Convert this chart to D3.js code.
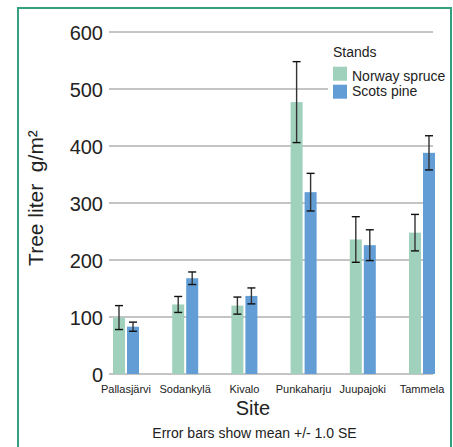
<!DOCTYPE html>
<html><head><meta charset="utf-8">
<script src="https://cdn.jsdelivr.net/npm/d3@7"></script>
<style>body{margin:0;background:#fff}svg{display:block}text{font-family:"Liberation Sans",Arial,sans-serif;fill:#222}</style>
</head><body>
<svg id="c" width="453" height="447"></svg>
<script>
const sites = ["Pallasjärvi","Sodankylä","Kivalo","Punkaharju","Juupajoki","Tammela"];
const series = ["Norway spruce","Scots pine"];
const spruceMean = [99, 122, 120, 477, 236, 248];
const spruceSE   = [21, 14, 15, 71, 40, 32];
const pineMean   = [83, 168, 137, 319, 226, 388];
const pineSE     = [8, 11, 14, 33, 27, 30];
const yTicks = [0,100,200,300,400,500,600];
const colors = ["#a0d1bc","#629dd5"];

const svg = d3.select("#c");
// frame
svg.append("rect").attr("x",18).attr("y",8).attr("width",433).attr("height",460)
  .attr("fill","none").attr("stroke","#34a080").attr("stroke-width",2);

const x = d3.scalePoint().domain(sites).range([126,422]);
const y = d3.scaleLinear().domain([0,600]).range([374,32]);

// gridlines
svg.append("g").selectAll("line").data(yTicks).join("line")
  .attr("x1",109).attr("x2",433).attr("y1",d=>y(d)).attr("y2",d=>y(d))
  .attr("stroke","#8a8a8a").attr("stroke-width",1);

// y tick labels
svg.append("g").selectAll("text").data(yTicks).join("text")
  .attr("x",103).attr("y",d=>y(d)+7.5).attr("text-anchor","end")
  .attr("font-size",20).text(d=>d);

// legend background (hides gridline)
svg.append("rect").attr("x",328).attr("y",40).attr("width",120).attr("height",64).attr("fill","#fff");

const data = [];
sites.forEach((s,i)=>{
  data.push({site:s, k:0, m:spruceMean[i], se:spruceSE[i]});
  data.push({site:s, k:1, m:pineMean[i], se:pineSE[i]});
});
const bw = 12;
const bx = d => d.k===0 ? x(d.site)-13 : x(d.site)+1;

svg.append("g").selectAll("rect").data(data).join("rect")
  .attr("x",bx).attr("width",bw)
  .attr("y",d=>y(d.m)).attr("height",d=>y(0)-y(d.m))
  .attr("fill",d=>colors[d.k]);

// error bars
const eg = svg.append("g");
data.forEach(d=>{
  const cx = bx(d)+bw/2;
  eg.append("line").attr("x1",cx).attr("x2",cx).attr("y1",y(d.m+d.se)).attr("y2",y(d.m-d.se))
    .attr("stroke","#333").attr("stroke-width",1.4);
  [d.m+d.se, d.m-d.se].forEach(v=>{
    eg.append("line").attr("x1",cx-4).attr("x2",cx+4).attr("y1",y(v)).attr("y2",y(v))
      .attr("stroke","#111").attr("stroke-width",1.4);
  });
});

// category labels
svg.append("g").selectAll("text").data(sites).join("text")
  .attr("x",d=>x(d)).attr("y",392.7).attr("text-anchor","middle")
  .attr("font-size",11).text(d=>d);

// axis titles
svg.append("text").attr("x",253).attr("y",415).attr("text-anchor","middle").attr("font-size",20).text("Site");
svg.append("text").attr("transform","translate(43,198) rotate(-90)").attr("text-anchor","middle")
  .attr("font-size",21).attr("xml:space","preserve").text("Tree liter  g/m²");
svg.append("text").attr("x",254.5).attr("y",437.5).attr("text-anchor","middle").attr("font-size",14)
  .text("Error bars show mean +/- 1.0 SE");

// legend
svg.append("text").attr("x",333).attr("y",57).attr("font-size",14).text("Stands");
const lg = svg.append("g").selectAll("g").data(series).join("g");
lg.append("rect").attr("x",333).attr("y",(d,i)=>66.7+i*18).attr("width",14).attr("height",14)
  .attr("fill",(d,i)=>colors[i]);
lg.append("text").attr("x",352).attr("y",(d,i)=>80.5+i*15).attr("font-size",14).text(d=>d);
</script>
</body></html>
